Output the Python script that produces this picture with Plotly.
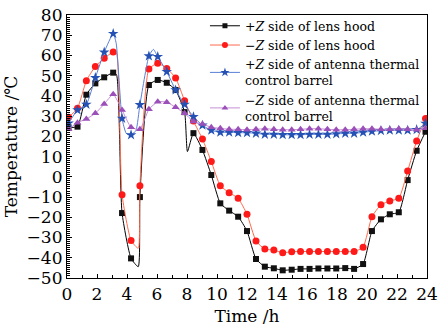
import plotly.graph_objects as go

# Sampling times of the marked points (h)
t_marks = [0.10, 0.70, 1.29, 1.89, 2.48, 3.08, 3.67, 4.27, 4.86, 5.46, 6.05,
           6.65, 7.24, 7.84, 8.43, 9.03, 9.62, 10.22, 10.81, 11.41, 12.00,
           12.60, 13.19, 13.79, 14.38, 14.98, 15.57, 16.17, 16.76, 17.36,
           17.95, 18.55, 19.14, 19.74, 20.33, 20.93, 21.52, 22.12, 22.71,
           23.31, 23.90]

# Temperatures (deg C) at the marked times
hood_pz = [24.5, 24.8, 40.6, 46.2, 49.2, 51.5, -17.9, -40.3, -10.0, 45.4, 47.9,
           46.5, 42.9, 32.0, 21.6, 13.3, 0.9, -13.1, -16.7, -19.7, -26.8,
           -40.6, -44.4, -45.2, -46.2, -45.9, -45.5, -45.5, -45.3, -45.3,
           -45.3, -45.1, -45.5, -43.1, -26.8, -21.0, -18.5, -17.5, -1.6,
           12.9, 22.3]
hood_nz = [29.4, 33.9, 47.5, 54.6, 58.6, 61.7, -8.8, -31.5, -4.4, 53.3, 56.1,
           53.6, 48.9, 37.6, 27.6, 18.7, 7.6, -4.4, -7.8, -10.6, -18.5,
           -31.7, -35.7, -36.2, -37.5, -37.0, -36.9, -36.9, -36.9, -36.9,
           -36.9, -36.9, -36.9, -34.8, -19.7, -13.8, -11.9, -10.6, 2.9,
           17.7, 28.9]
barrel_pz = [26.5, 33.0, 35.8, 49.0, 61.6, 70.8, 28.9, 20.7, 35.6, 59.7, 59.4,
             52.0, 42.9, 35.8, 29.7, 25.5, 23.0, 22.0, 22.0, 21.8, 21.8,
             21.5, 21.0, 21.0, 20.8, 20.8, 20.8, 21.0, 21.0, 21.0, 21.2,
             21.5, 21.5, 22.0, 22.5, 22.8, 23.0, 23.0, 23.0, 23.3, 26.4]
barrel_nz = [23.5, 26.8, 28.6, 31.4, 36.0, 40.8, 33.0, 24.5, 23.5, 33.4, 37.1,
             36.9, 34.4, 31.4, 27.3, 26.1, 24.5, 24.0, 23.5, 23.5, 23.3,
             23.5, 23.8, 23.5, 23.3, 23.3, 23.5, 23.8, 23.8, 23.5, 23.3,
             23.3, 23.5, 23.8, 23.8, 23.5, 23.5, 23.8, 23.5, 23.3, 24.0]

# Additional curve points between markers (unmarked)
hood_pz_t_extra = [3.30, 4.75, 8.03]
hood_pz_extra = [50.5, -44.4, 12.5]
hood_nz_t_extra = [3.30, 4.75]
hood_nz_extra = [61.0, -35.3]
barrel_pz_t_extra = [3.28, 3.95, 4.60, 5.76]
barrel_pz_extra = [66.0, 21.5, 23.0, 63.0]
barrel_nz_t_extra = []
barrel_nz_extra = []

series = [
    ("+<i>Z</i> side of lens hood", hood_pz, hood_pz_t_extra, hood_pz_extra,
     "#000000", "#111111", "square", 6),
    ("\u2212<i>Z</i> side of lens hood", hood_nz, hood_nz_t_extra, hood_nz_extra,
     "#ff6a4d", "#ff1a1a", "circle", 7),
    ("+<i>Z</i> side of antenna thermal<br>control barrel", barrel_pz,
     barrel_pz_t_extra, barrel_pz_extra, "#5a7fd6", "#2451b3", "star", 8),
    ("\u2212<i>Z</i> side of antenna thermal<br>control barrel", barrel_nz,
     barrel_nz_t_extra, barrel_nz_extra, "#c58fd6", "#9b4fb8", "triangle-up", 7),
]

fig = go.Figure()
for name, vals, tx, vx, lcol, mcol, sym, msz in series:
    pts = sorted(list(zip(t_marks, vals)) + list(zip(tx, vx)))
    fig.add_trace(go.Scatter(
        x=[p[0] for p in pts], y=[p[1] for p in pts], mode="lines",
        line=dict(color=lcol, width=1, shape="spline", smoothing=0.5),
        showlegend=False, hoverinfo="skip"))
    fig.add_trace(go.Scatter(
        x=t_marks, y=vals, mode="markers",
        marker=dict(symbol=sym, size=msz, color=mcol, line=dict(width=0)),
        showlegend=False))
    # legend entry
    fig.add_trace(go.Scatter(
        x=[None], y=[None], mode="lines+markers", name=name,
        line=dict(color=lcol, width=1),
        marker=dict(symbol=sym, size=msz - 1, color=mcol, line=dict(width=0))))

axis_font = dict(family="DejaVu Serif", size=17, color="#000000")
fig.update_layout(
    width=439, height=328,
    margin=dict(l=67, r=12, t=15, b=50, autoexpand=False),
    paper_bgcolor="white", plot_bgcolor="white",
    font=dict(family="DejaVu Serif", color="#000000"),
    legend=dict(x=0.968, y=0.966, xref="container", yref="container",
                xanchor="right", yanchor="top",
                bgcolor="rgba(0,0,0,0)", borderwidth=0,
                font=dict(family="DejaVu Serif", size=12.5, color="#000000"),
                tracegroupgap=0, itemwidth=30),
    xaxis=dict(range=[0, 24], dtick=2, tick0=0, showgrid=False, zeroline=False,
               showline=True, linecolor="#000000", linewidth=1.2, mirror=True,
               ticks="inside", ticklen=4, tickcolor="#000000",
               minor=dict(dtick=1, ticks="inside", ticklen=3, tickcolor="#000000"),
               tickfont=axis_font, automargin=False,
               title=dict(text="Time /h", font=axis_font, standoff=7)),
    yaxis=dict(range=[-50, 80], dtick=10, tick0=0, showgrid=False, zeroline=False,
               showline=True, linecolor="#000000", linewidth=1.2, mirror=True,
               ticks="inside", ticklen=5, tickcolor="#000000",
               minor=dict(dtick=1, ticks="inside", ticklen=2.5, tickcolor="#000000"),
               tickfont=axis_font, automargin=False,
               title=dict(text="Temperature /\u2103", font=axis_font, standoff=4)),
)

fig.write_html("out.html")
